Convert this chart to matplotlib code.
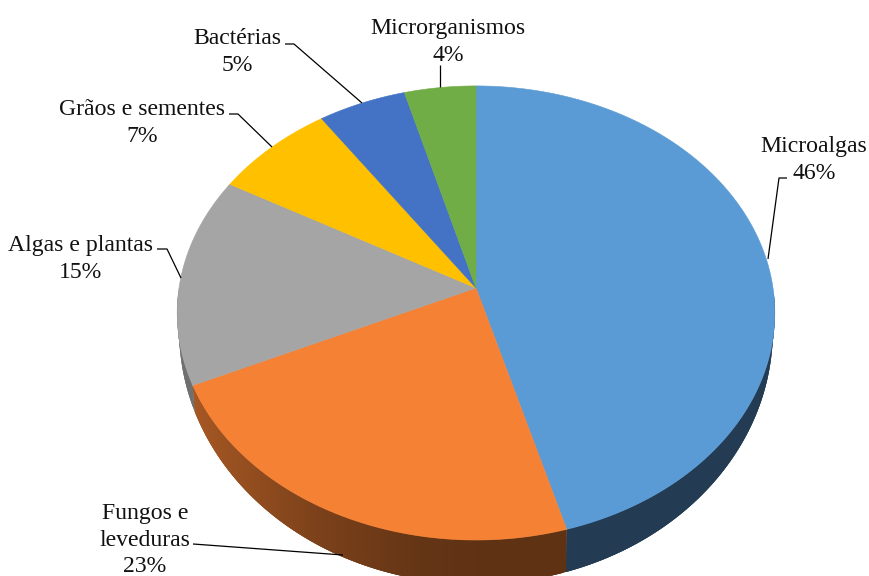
import numpy as np
import matplotlib
matplotlib.use("Agg")
import matplotlib.pyplot as plt

categories = ["Microalgas", "Fungos e\nleveduras", "Algas e plantas", "Grãos e sementes", "Bactérias", "Microrganismos"]
values = [45.6, 22.6, 14.9, 7.3, 5.3, 4.3]
colors = ["#5B9BD5", "#F58134", "#A5A5A5", "#FFC000", "#4472C4", "#70AD47"]
label_pos = [(814, 160), (145, 540), (81, 259), (142, 123), (237, 52), (448, 42)]
leaders = [
    [(768, 259), (779, 178), (787, 178)],
    [(343, 555), (193, 544)],
    [(181, 278), (167, 249), (157, 249)],
    [(272, 147), (238, 114), (229, 114)],
    [(362, 103), (294, 44), (285, 44)],
    [(440, 87), (440, 65)],
]

W, H = 869, 576
CX = 476
K = 0.11
TOP = dict(apex=288, a=297, b=224.3)
BOT = dict(apex=303, a=295, b=250)


def rim(theta, apex, a, b):
    u, v = np.sin(theta), np.cos(theta)
    w = 1 + K * v
    return CX + a * u / w, apex - b * v / w


def shade(x):
    return np.interp(x, [190, 323, 420, 480], [0.68, 0.50, 0.41, 0.39])


plt.rcParams["font.family"] = ["Liberation Serif", "DejaVu Serif"]
fig = plt.figure(figsize=(W / 100, H / 100), dpi=100)
ax = fig.add_axes([0, 0, 1, 1])
ax.set_xlim(0, W)
ax.set_ylim(H, 0)
ax.axis("off")

edges = np.cumsum([0] + values) / sum(values) * 2 * np.pi

# side walls: only the part facing the viewer; each strip overlaps the next to hide seams
for i, col in enumerate(colors):
    base = np.array(matplotlib.colors.to_rgb(col))
    lo, hi = edges[i], edges[i + 1]
    n = max(int((hi - lo) * 150), 2)
    th = np.linspace(lo, hi, n + 1)
    dt = th[1] - th[0]
    for t0 in th[:-1]:
        if np.cos(t0) > -0.02 and np.cos(t0 + dt) > -0.02:
            continue
        t1 = min(t0 + 3 * dt, hi)
        seg = np.linspace(t0, t1, 5)
        xt, yt = rim(seg, **TOP)
        xb, yb = rim(seg[::-1], **BOT)
        c = base * shade(xt[0])
        ax.fill(np.r_[xt, xb], np.r_[yt, yb], color=c, lw=0, zorder=1 + 0.001 * i)

# top face
for i, col in enumerate(colors):
    th = np.linspace(edges[i], edges[i + 1], 200)
    x, y = rim(th, **TOP)
    ax.fill(np.r_[CX, x], np.r_[TOP["apex"], y], color=col, lw=0.4, zorder=2)

# labels
for name, v, (lx, ly), seg in zip(categories, values, label_pos, leaders):
    ax.text(lx, ly, f"{name}\n{round(v)}%", ha="center", va="center", fontsize=17.1,
            color="#111111", linespacing=1.32, zorder=4)
    xs, ys = zip(*seg)
    ax.plot(xs, ys, color="black", lw=0.9, zorder=3, solid_capstyle="butt")

fig.savefig("out.png", dpi=100)
